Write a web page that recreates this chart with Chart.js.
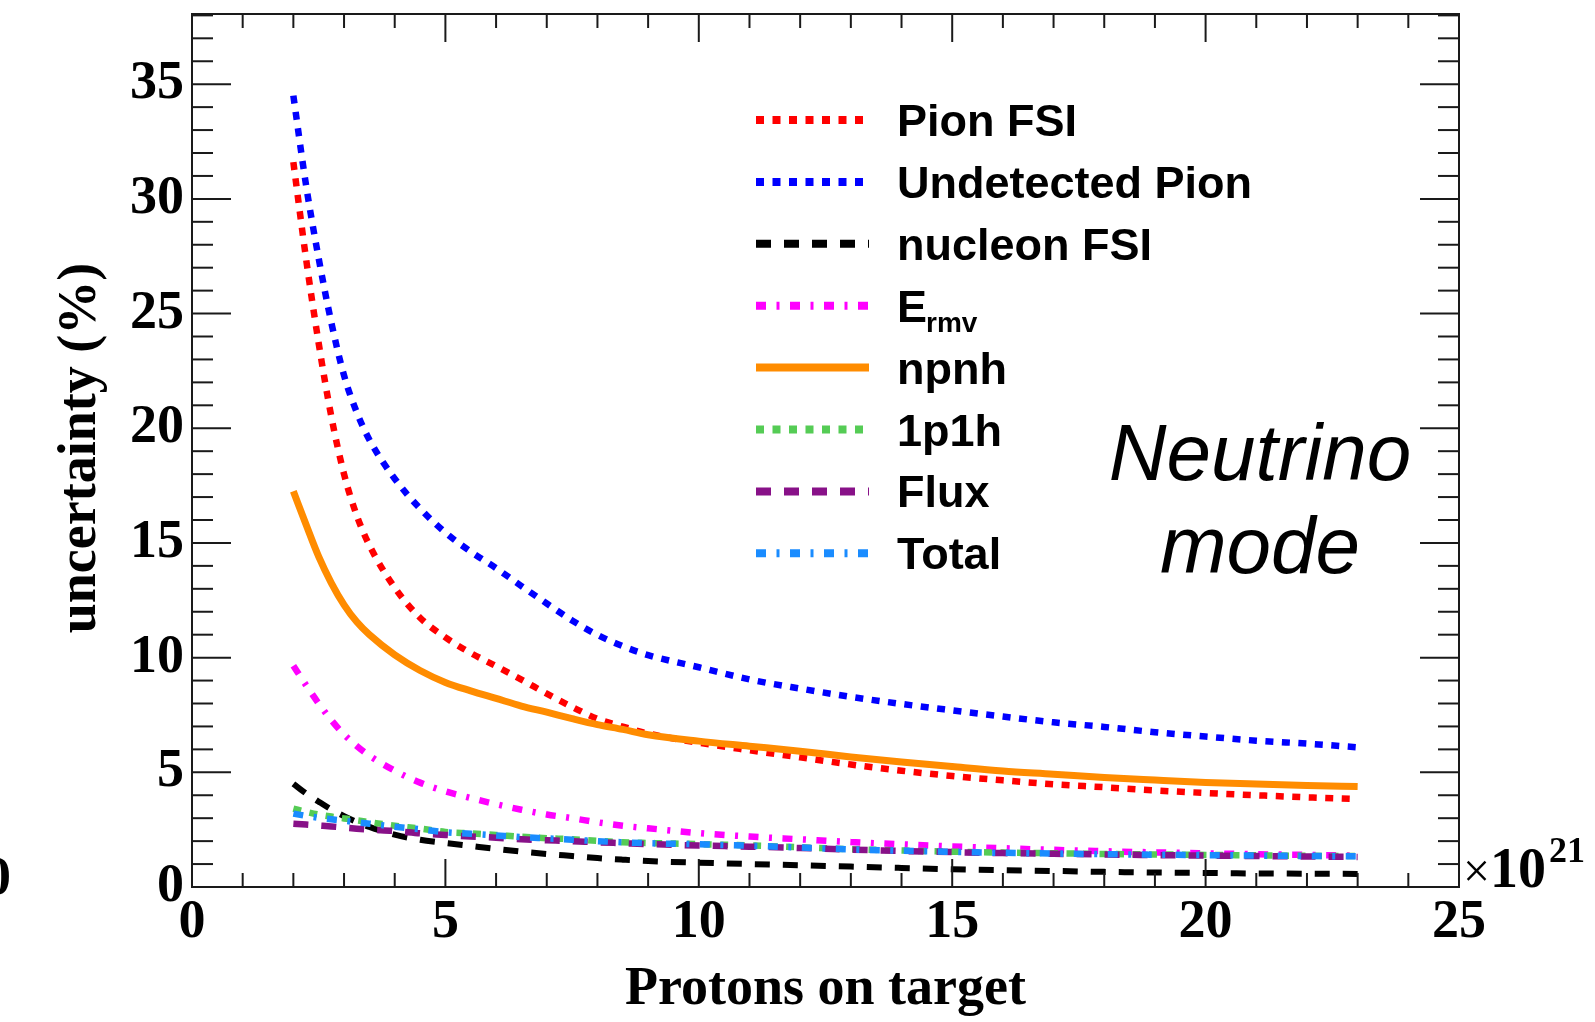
<!DOCTYPE html>
<html>
<head>
<meta charset="utf-8">
<script src="https://cdn.jsdelivr.net/npm/chart.js@4/dist/chart.umd.min.js"></script>
<style>
  html, body { margin: 0; padding: 0; background: #ffffff; overflow: hidden; }
  #wrap { position: relative; width: 1595px; height: 1022px; }
</style>
</head>
<body>
<div id="wrap"><canvas id="c" width="1595" height="1022"></canvas></div>
<script>
// Protons on target (units of 1e21)
const pot = [2, 2.25, 2.5, 2.75, 3, 3.25, 3.5, 4, 4.5, 5, 5.5, 6, 6.5, 7, 7.5, 8, 8.5, 9, 10, 11, 12, 13, 14, 15, 16, 17, 18, 19, 20, 21, 22, 23];

// Uncertainty (%) per systematic source
const pionFSI    = [31.6, 27.4, 23.7, 20.5, 18.0, 16.2, 14.9, 13.05, 11.74, 10.88, 10.2, 9.63, 9.04, 8.43, 7.85, 7.33, 6.99, 6.69, 6.29, 5.96, 5.65, 5.34, 5.07, 4.84, 4.65, 4.48, 4.35, 4.21, 4.10, 4.00, 3.91, 3.83];
const undetPion  = [34.5, 30.6, 27.4, 24.6, 22.3, 20.7, 19.5, 17.8, 16.5, 15.45, 14.62, 13.9, 13.12, 12.36, 11.62, 10.99, 10.5, 10.11, 9.58, 9.05, 8.65, 8.29, 7.98, 7.70, 7.43, 7.18, 6.98, 6.75, 6.56, 6.38, 6.25, 6.09];
const nucleonFSI = [4.5, 4.08, 3.72, 3.38, 3.09, 2.84, 2.62, 2.28, 2.06, 1.92, 1.79, 1.66, 1.54, 1.44, 1.35, 1.26, 1.19, 1.13, 1.06, 1.0, 0.95, 0.89, 0.83, 0.77, 0.73, 0.70, 0.66, 0.63, 0.61, 0.59, 0.58, 0.57];
const eRmv       = [9.65, 8.8, 8.0, 7.27, 6.65, 6.15, 5.73, 5.07, 4.55, 4.17, 3.88, 3.61, 3.37, 3.16, 3.0, 2.82, 2.67, 2.56, 2.35, 2.2, 2.08, 1.96, 1.86, 1.77, 1.69, 1.62, 1.56, 1.51, 1.47, 1.43, 1.40, 1.37];
const npnh       = [17.25, 15.8, 14.4, 13.25, 12.3, 11.56, 11.0, 10.12, 9.44, 8.92, 8.55, 8.22, 7.89, 7.62, 7.34, 7.08, 6.87, 6.64, 6.36, 6.14, 5.92, 5.67, 5.45, 5.25, 5.06, 4.92, 4.77, 4.66, 4.56, 4.49, 4.43, 4.38];
const onePoneH   = [3.42, 3.28, 3.16, 3.07, 2.99, 2.91, 2.83, 2.67, 2.55, 2.40, 2.34, 2.27, 2.19, 2.13, 2.08, 2.01, 1.95, 1.92, 1.87, 1.81, 1.73, 1.65, 1.59, 1.54, 1.50, 1.47, 1.44, 1.42, 1.40, 1.38, 1.36, 1.35];
const flux       = [2.76, 2.72, 2.68, 2.64, 2.59, 2.54, 2.50, 2.44, 2.34, 2.27, 2.20, 2.15, 2.08, 2.04, 2.0, 1.95, 1.91, 1.87, 1.81, 1.76, 1.70, 1.63, 1.57, 1.52, 1.48, 1.45, 1.42, 1.39, 1.37, 1.35, 1.33, 1.31];
const total      = [3.20, 3.10, 3.02, 2.95, 2.89, 2.82, 2.76, 2.63, 2.52, 2.39, 2.32, 2.25, 2.18, 2.12, 2.06, 2.0, 1.95, 1.91, 1.86, 1.80, 1.72, 1.64, 1.58, 1.53, 1.49, 1.46, 1.43, 1.41, 1.39, 1.37, 1.35, 1.34];

// Legend names ("_" starts a subscript)
const seriesNames = ['Pion FSI', 'Undetected Pion', 'nucleon FSI', 'E_rmv', 'npnh', '1p1h', 'Flux', 'Total'];

// Axis ticks and titles
const xTicks = [0, 5, 10, 15, 20, 25];
const yTicks = [0, 5, 10, 15, 20, 25, 30, 35];
const xTitle = 'Protons on target';
const yTitle = 'uncertainty (%)';
const xExponent = '21';
const modeText = ['Neutrino', 'mode'];

const X_MIN = 0, X_MAX = 25, Y_MIN = 0, Y_MAX = 38.06;

const seriesValues = [pionFSI, undetPion, nucleonFSI, eRmv, npnh, onePoneH, flux, total];
const styles = [
  { color: '#ff0000', dash: [8, 8.5], width: 6.5 },
  { color: '#0000ff', dash: [8, 8.5], width: 6.5 },
  { color: '#000000', dash: [15, 13], width: 6 },
  { color: '#ff00ff', dash: [10, 10.5, 3, 10.5], width: 6.5 },
  { color: '#ff8c00', dash: [], width: 7 },
  { color: '#55cc55', dash: [8, 8.5], width: 6.5 },
  { color: '#881188', dash: [15, 13], width: 6.5 },
  { color: '#1a8cff', dash: [10, 10.5, 3, 10.5], width: 6.5 }
];

const datasets = seriesValues.map((vals, i) => ({
  label: seriesNames[i],
  data: pot.map((p, k) => ({ x: p, y: vals[k] })),
  borderColor: styles[i].color,
  backgroundColor: styles[i].color,
  borderWidth: styles[i].width,
  borderDash: styles[i].dash,
  borderCapStyle: 'butt',
  borderJoinStyle: 'round',
  cubicInterpolationMode: 'monotone',
  pointRadius: 0,
  fill: false,
  order: seriesValues.length - i
}));

const SERIF_BOLD = 'bold 54px "Liberation Serif", "Times New Roman", serif';

function seg(ctx, x1, y1, x2, y2) {
  ctx.beginPath(); ctx.moveTo(x1, y1); ctx.lineTo(x2, y2); ctx.stroke();
}

// Frame, inward ticks on all four sides, tick labels and axis titles
const framePlugin = {
  id: 'framePlugin',
  afterDatasetsDraw(chart) {
    const { ctx, chartArea: a } = chart;
    const xs = chart.scales.x, ys = chart.scales.y;
    ctx.save();
    ctx.strokeStyle = '#1a1a1a';
    ctx.lineWidth = 2;
    ctx.strokeRect(a.left, a.top, a.right - a.left, a.bottom - a.top);

    for (let v = X_MIN; v <= X_MAX; v += 1) {
      const px = xs.getPixelForValue(v);
      const len = (v % 5 === 0) ? 28 : 14;
      seg(ctx, px, a.bottom, px, a.bottom - len);
      seg(ctx, px, a.top, px, a.top + len);
    }
    for (let v = Y_MIN; v <= Math.floor(Y_MAX); v += 1) {
      const py = ys.getPixelForValue(v);
      const len = (v % 5 === 0) ? 39 : 21;
      seg(ctx, a.left, py, a.left + len, py);
      seg(ctx, a.right, py, a.right - len, py);
    }

    ctx.fillStyle = '#000000';
    ctx.font = SERIF_BOLD;
    ctx.textAlign = 'right';
    ctx.textBaseline = 'middle';
    yTicks.forEach(v => ctx.fillText(String(v), a.left - 8, ys.getPixelForValue(v)));

    ctx.textAlign = 'center';
    ctx.textBaseline = 'alphabetic';
    xTicks.forEach(v => ctx.fillText(String(v), xs.getPixelForValue(v), a.bottom + 50));

    // axis multiplier
    ctx.textAlign = 'left';
    ctx.font = '48px "Liberation Serif", serif';
    ctx.fillText('\u00d7', a.right + 4, a.bottom);
    ctx.font = 'bold 56px "Liberation Serif", serif';
    ctx.fillText('10', a.right + 31, a.bottom);
    ctx.font = 'bold 36px "Liberation Serif", serif';
    ctx.fillText(xExponent, a.right + 90, a.bottom - 25);

    // axis titles
    ctx.font = SERIF_BOLD;
    ctx.textAlign = 'center';
    ctx.fillText(xTitle, (a.left + a.right) / 2, 1004);
    ctx.save();
    ctx.translate(95, 448);
    ctx.rotate(-Math.PI / 2);
    ctx.fillText(yTitle, 0, 0);
    ctx.restore();

    // neighbouring panel's tick label at the left edge
    ctx.textAlign = 'right';
    ctx.textBaseline = 'middle';
    ctx.fillText('0', 11, 880);

    // mode annotation
    ctx.font = 'italic 80px "Liberation Sans", Arial, sans-serif';
    ctx.textAlign = 'center';
    ctx.textBaseline = 'alphabetic';
    ctx.fillText(modeText[0], 1260, 480);
    ctx.fillText(modeText[1], 1260, 573);
    ctx.restore();
  }
};

// Legend with dashed line samples
const legendPlugin = {
  id: 'legendPlugin',
  afterDraw(chart) {
    const { ctx } = chart;
    const x0 = 756, len = 113, textX = 897, top = 120, step = 61.9;
    ctx.save();
    chart.data.datasets.forEach((ds, i) => {
      const y = top + i * step;
      ctx.strokeStyle = ds.borderColor;
      ctx.lineWidth = 8;
      ctx.lineCap = 'butt';
      ctx.setLineDash(ds.borderDash || []);
      seg(ctx, x0, y, x0 + len, y);
      ctx.setLineDash([]);
      ctx.fillStyle = '#000000';
      ctx.textAlign = 'left';
      ctx.textBaseline = 'alphabetic';
      const parts = ds.label.split('_');
      ctx.font = 'bold 45px "Liberation Sans", Arial, sans-serif';
      ctx.fillText(parts[0], textX, y + 16);
      if (parts.length > 1) {
        const w = ctx.measureText(parts[0]).width;
        ctx.font = 'bold 28px "Liberation Sans", Arial, sans-serif';
        ctx.fillText(parts[1], textX + w - 1, y + 26);
      }
    });
    ctx.restore();
  }
};

new Chart(document.getElementById('c'), {
  type: 'line',
  data: { datasets },
  options: {
    responsive: false,
    animation: false,
    devicePixelRatio: 1,
    layout: { padding: { left: 192, right: 136, top: 14, bottom: 135 } },
    scales: {
      x: { type: 'linear', min: X_MIN, max: X_MAX, display: false },
      y: { type: 'linear', min: Y_MIN, max: Y_MAX, display: false }
    },
    plugins: { legend: { display: false }, tooltip: { enabled: false } }
  },
  plugins: [framePlugin, legendPlugin]
});
</script>
</body>
</html>
